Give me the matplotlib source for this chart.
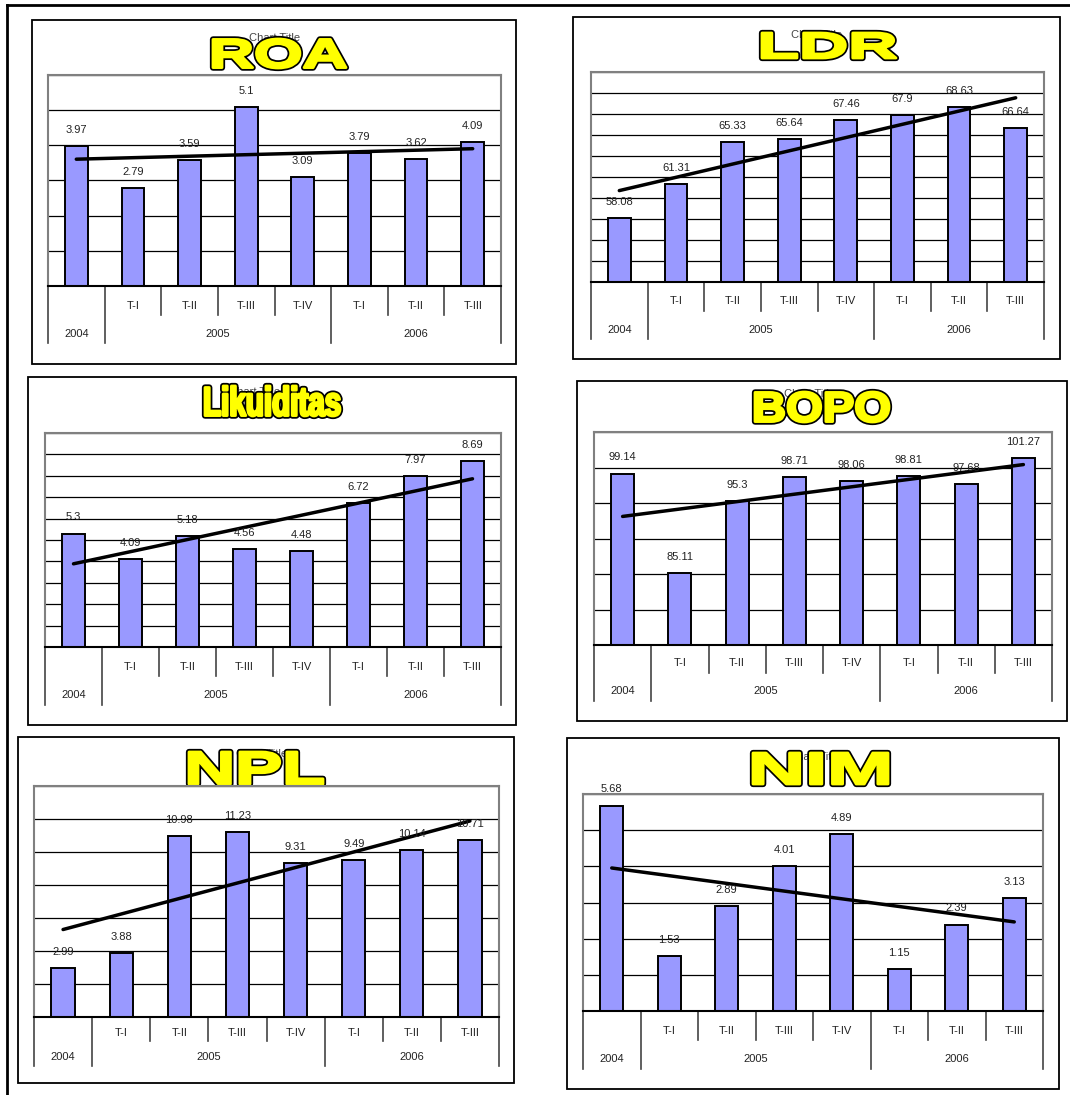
import numpy as np
import matplotlib
matplotlib.use('Agg')
import matplotlib.pyplot as plt
import matplotlib.transforms as mtransforms
from matplotlib.patches import Rectangle, PathPatch
from matplotlib.path import Path
from matplotlib.textpath import TextPath
from matplotlib.font_manager import FontProperties

plt.rcParams['font.family'] = ['Liberation Sans', 'DejaVu Sans']

# quarterly indicators, 2004 (year end) then 2005 T-I .. 2006 T-III
quarters = ['', 'T-I', 'T-II', 'T-III', 'T-IV', 'T-I', 'T-II', 'T-III']
years = ['2004', '2005', '2006']
year_slots = [(0, 0), (1, 4), (5, 7)]

roa = [3.97, 2.79, 3.59, 5.1, 3.09, 3.79, 3.62, 4.09]
ldr = [58.08, 61.31, 65.33, 65.64, 67.46, 67.9, 68.63, 66.64]
likuiditas = [5.3, 4.09, 5.18, 4.56, 4.48, 6.72, 7.97, 8.69]
bopo = [99.14, 85.11, 95.3, 98.71, 98.06, 98.81, 97.68, 101.27]
npl = [2.99, 3.88, 10.98, 11.23, 9.31, 9.49, 10.14, 10.71]
nim = [5.68, 1.53, 2.89, 4.01, 4.89, 1.15, 2.39, 3.13]

W, H = 1070, 1095
BAR = '#9999FF'

fig = plt.figure(figsize=(W / 100, H / 100), dpi=100)
canvas = fig.add_axes([0, 0, 1, 1])
canvas.set_xlim(0, W)
canvas.set_ylim(H, 0)
canvas.axis('off')

# page border (top and left only)
canvas.plot([7, W], [5, 5], color='black', lw=2)
canvas.plot([7, 7], [5, H], color='black', lw=2)

title_font = FontProperties(family='Liberation Sans', weight='bold')


def fitted_title(text, box):
    # word-art style title squeezed into a pixel box
    tp = TextPath((0, 0), text, size=100, prop=title_font)
    ext = tp.get_extents()
    x0, y0, x1, y1 = box
    v = tp.vertices.copy()
    v[:, 0] = x0 + (v[:, 0] - ext.x0) / ext.width * (x1 - x0)
    v[:, 1] = y1 - (v[:, 1] - ext.y0) / ext.height * (y1 - y0)
    path = Path(v, tp.codes)
    # heavy black outline, then a fattened yellow fill on top
    canvas.add_patch(PathPatch(path, facecolor='black', edgecolor='black',
                               lw=4.5, joinstyle='round', zorder=5))
    canvas.add_patch(PathPatch(path, facecolor='#FFFF00', edgecolor='#FFFF00',
                               lw=2.0, joinstyle='round', zorder=6))


def panel(values, title, frame, plot, lab_bottom, q_y, y_y, half_y, title_box,
          ct_xy, ylim, step):
    fx0, fy0, fx1, fy1 = frame
    canvas.add_patch(Rectangle((fx0, fy0), fx1 - fx0, fy1 - fy0, fill=False,
                               edgecolor='black', lw=1.3, zorder=1))
    canvas.text(ct_xy[0], ct_xy[1], 'Chart Title', fontsize=8, color='#444444',
                ha='center', va='center', zorder=3)
    fitted_title(title, title_box)

    px0, ptop, px1, pbase = plot
    ax = fig.add_axes([px0 / W, 1 - pbase / H, (px1 - px0) / W, (pbase - ptop) / H])
    ax.set_facecolor('white')
    x = np.arange(len(values))
    ax.bar(x, values, width=0.4, color=BAR, edgecolor='black', lw=1.4, zorder=2)
    ax.set_xlim(-0.5, len(values) - 0.5)
    ax.set_ylim(*ylim)
    ax.set_yticks(np.arange(ylim[0], ylim[1] + step / 2, step))
    ax.yaxis.grid(True, color='black', lw=0.9)
    ax.set_axisbelow(True)
    ax.tick_params(length=0, labelleft=False, labelbottom=False)
    ax.set_xticks([])
    for side in ('left', 'right', 'top'):
        ax.spines[side].set_color('#808080')
        ax.spines[side].set_linewidth(1.5)
    ax.spines['bottom'].set_color('black')
    ax.spines['bottom'].set_linewidth(1.5)

    for xi, v in zip(x, values):
        ax.annotate(f'{v:g}', (xi, v), xytext=(0, 8), textcoords='offset points',
                    ha='center', va='bottom', fontsize=8, color='#222222',
                    annotation_clip=False, zorder=4)

    # linear trend line across the bar centres
    k, b = np.polyfit(x, values, 1)
    ax.plot(x[[0, -1]], k * x[[0, -1]] + b, color='black', lw=2.5,
            solid_capstyle='round', zorder=3)

    # two-level category axis below the plot
    span = pbase - ptop
    fy = lambda yy: (pbase - yy) / span
    trans = mtransforms.blended_transform_factory(ax.transData, ax.transAxes)
    full = {-0.5, 0.5, 4.5, len(values) - 0.5}
    for sx in np.arange(-0.5, len(values), 1.0):
        bottom = lab_bottom if sx in full else half_y
        ax.plot([sx, sx], [0, fy(bottom)], transform=trans, color='#444444',
                lw=1.2, clip_on=False)
    for xi, q in zip(x, quarters):
        ax.text(xi, fy(q_y), q, transform=trans, ha='center', va='center',
                fontsize=8, color='#222222')
    for yr, (a, c) in zip(years, year_slots):
        ax.text((a + c) / 2, fy(y_y), yr, transform=trans, ha='center',
                va='center', fontsize=8, color='#222222')
    return ax


panel(roa, 'ROA', (32, 20, 516, 364), (48, 75, 501, 286), 343, 306, 334, 315,
      (213, 39, 346, 68), (275, 38), (0, 6), 1)
panel(ldr, 'LDR', (573, 17, 1060, 359), (591, 72, 1044, 282), 339, 301, 330, 311,
      (762, 33, 896, 58), (817, 35), (52, 72), 2)
panel(likuiditas, 'Likuiditas', (28, 377, 516, 725), (45, 433, 501, 647), 705, 667,
      695, 676, (205, 386, 340, 416), (255, 392), (0, 10), 1)
panel(bopo, 'BOPO', (577, 381, 1067, 721), (594, 432, 1052, 645), 701, 663, 691, 673,
      (755, 392, 889, 422), (810, 394), (75, 105), 5)
panel(npl, 'NPL', (18, 737, 514, 1083), (34, 786, 499, 1017), 1066, 1033, 1057, 1041,
      (189, 752, 323, 784), (262, 754), (0, 14), 2)
panel(nim, 'NIM', (567, 738, 1059, 1089), (583, 794, 1043, 1011), 1069, 1031, 1059,
      1040, (753, 753, 888, 784), (815, 757), (0, 6), 1)

fig.savefig('out.png', dpi=100)
